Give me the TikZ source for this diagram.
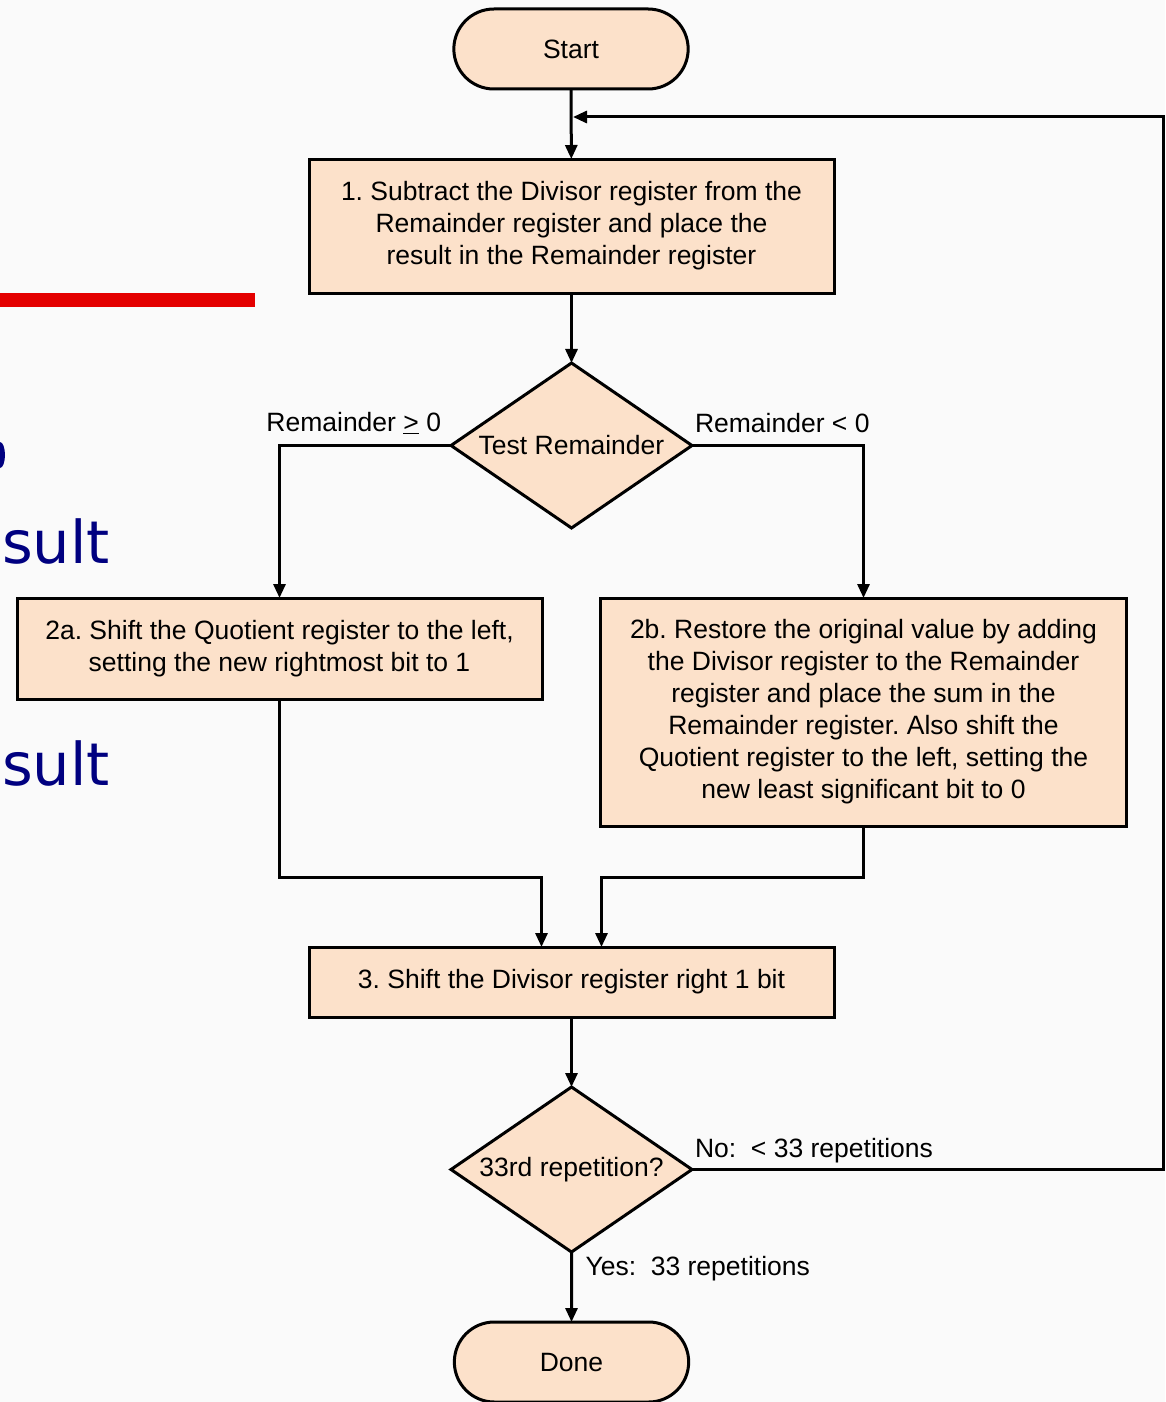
\documentclass[tikz,border=0pt]{standalone}
\usepackage{fontspec}
\setmainfont{Liberation Sans}
\newfontfamily\handfont{DejaVu Sans}
\usetikzlibrary{positioning,shapes.geometric,shapes.misc,arrows.meta}
\definecolor{peach}{RGB}{252,225,202}
\definecolor{slidebg}{RGB}{250,250,250}
\definecolor{slidered}{RGB}{228,0,0}
\definecolor{slideblue}{RGB}{0,0,128}
\frenchspacing

\begin{document}
\begin{tikzpicture}[x=1pt, y=1pt, line width=3pt, font=\fontsize{26.5}{32}\selectfont,
    every node/.style={outer sep=0pt},
    box/.style={draw, fill=peach, rectangle, minimum width=525pt, align=center, inner sep=0pt},
    term/.style={draw, fill=peach, rounded rectangle, minimum width=241pt, minimum height=80pt},
    test/.style={draw, fill=peach, diamond, aspect=1.46, minimum width=241pt, minimum height=165pt, inner sep=0pt},
    arr/.style={-{Triangle[length=14pt,width=12pt]}},
    lbl/.style={inner sep=0pt},
    node distance=70pt]
    \fill[slidebg] (0,0) rectangle (1165,-1402);
    \useasboundingbox (0,0) rectangle (1165,-1402);
    % leftovers of the slide behind the chart
    \fill[slidered] (0,-293) rectangle (255,-307);
    \begin{scope}
      \clip (0,0) rectangle (1165,-1402);
      \fill[slideblue] (0,-455) ellipse (5pt and 13pt);
    \end{scope}
    \node[slideblue, anchor=base west, inner sep=0pt, font=\handfont\fontsize{59}{70}\selectfont] (sult1) at (2,-563) {sult};
    \node[slideblue, anchor=base west, inner sep=0pt, font=\handfont\fontsize{59}{70}\selectfont] (sult2) at (2,-785) {sult};
    % flow chart
    \node[term] (start) at (571,-49) {Start};
    \node[box, minimum height=134pt, below=of start, xshift=0.5pt] (sub) {1. Subtract the Divisor register from the\\Remainder register and place the\\result in the Remainder register};
    \node[test, below=of sub] (test) {Test Remainder};
    \node[box, minimum height=101pt, below=of test, xshift=-292pt] (shl) {2a. Shift the Quotient register to the left,\\setting the new rightmost bit to 1};
    \node[box, minimum width=526pt, minimum height=228pt, below=of test, xshift=292pt] (shr) {2b. Restore the original value by adding\\the Divisor register to the Remainder\\register and place the sum in the\\Remainder register. Also shift the\\Quotient register to the left, setting the\\new least significant bit to 0};
    \node[box, minimum height=70pt] (shd) at (571.5,-982) {3. Shift the Divisor register right 1 bit};
    \node[test, below=of shd] (rep) {33rd repetition?};
    \node[term, below=of rep] (done) {Done};
    \coordinate[below=28pt of start.south] (entry);
    \coordinate[above=of shd.north] (join);
    \draw[arr] (start) -- (sub);
    \draw[arr] (sub) -- (test);
    \draw[arr] (test.west) -| node[pos=0, lbl, above left=12pt and 10pt] {Remainder \underline{>} 0} (shl.north);
    \draw[arr] (test.east) -| node[pos=0, lbl, above right=13pt and 3pt] {Remainder < 0} (shr.north);
    \draw[arr] (shl.south) |- ([xshift=-30pt]join) -- ([xshift=-30pt]shd.north);
    \draw[arr] (shr.south) |- ([xshift=30pt]join) -- ([xshift=30pt]shd.north);
    \draw[arr] (shd) -- (rep);
    \draw[arr] (rep) -- node[pos=0, lbl, below right=4pt and 14pt] {Yes:\ \ 33 repetitions} (done);
    \draw[arr, shorten >=2pt] (rep.east) -- node[pos=0, lbl, above right=7pt and 3pt] {No:\ \ < 33 repetitions} ++(471pt,0) |- (entry);
\end{tikzpicture}
\end{document}
